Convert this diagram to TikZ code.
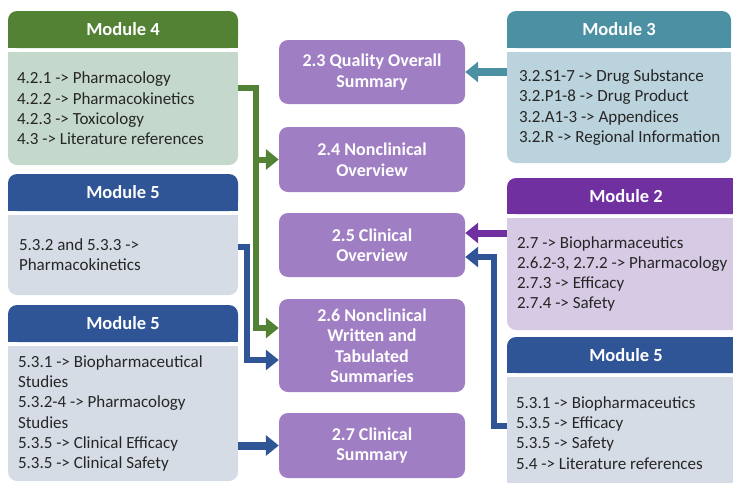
\documentclass[tikz,border=0pt]{standalone}
\usepackage{fontspec}
\setmainfont{Carlito}
\usepackage{tikz}
\usetikzlibrary{calc}
\usetikzlibrary{backgrounds}
\usetikzlibrary{arrows.meta}
\usetikzlibrary{positioning}

\definecolor{modgreen}{RGB}{84,130,53}
\definecolor{modgreenlt}{RGB}{197,216,204}
\definecolor{modblue}{RGB}{47,85,151}
\definecolor{modbluelt}{RGB}{214,220,229}
\definecolor{modteal}{RGB}{76,144,164}
\definecolor{modteallt}{RGB}{187,211,220}
\definecolor{modpurple}{RGB}{112,48,160}
\definecolor{modpurplelt}{RGB}{214,202,228}
\definecolor{summpurple}{RGB}{160,126,196}
\definecolor{bodytext}{RGB}{38,38,38}

\tikzset{modhead/.style={rectangle,rounded corners=9pt,inner sep=0pt,text=white,font=\fontsize{18.5}{20}\selectfont\bfseries}}
\tikzset{modbody/.style={rectangle,rounded corners=9pt,inner sep=0pt}}
\tikzset{modtext/.style={anchor=west,align=left,inner sep=0pt,text=bodytext,font=\fontsize{17}{20.3}\selectfont}}
\tikzset{summ/.style={rectangle,rounded corners=9pt,fill=summpurple,text=white,align=center,minimum width=186pt,font=\fontsize{18}{20.5}\selectfont\bfseries}}
\tikzset{link/.style={line width=6pt,-{Triangle[length=13pt,width=20pt]}}}

\begin{document}
\begin{tikzpicture}[x=1pt,y=-1pt]
\useasboundingbox (0,0) rectangle (733,482);

% left column
\node[modhead,fill=modgreen,minimum width=230pt,minimum height=37pt] (m4h) at (123,29.5) {Module 4};
\node[modbody,fill=modgreenlt,minimum width=230pt,minimum height=113pt] (m4b) at (123,108.5) {};
\node[modtext] (m4t) at ([xshift=9pt]m4b.west) {4.2.1 -> Pharmacology\\4.2.2 -> Pharmacokinetics\\4.2.3 -> Toxicology\\4.3 -> Literature references};

\node[modhead,fill=modblue,minimum width=230pt,minimum height=37pt] (m5ah) at (123,192.5) {Module 5};
\node[modbody,fill=modbluelt,minimum width=230pt,minimum height=80pt] (m5ab) at (123,255) {};
\node[modtext] (m5at) at ([xshift=11pt]m5ab.west) {5.3.2 and 5.3.3 ->\\Pharmacokinetics};

\node[modhead,fill=modblue,minimum width=230pt,minimum height=37pt] (m5bh) at (123,323.5) {Module 5};
\node[modbody,fill=modbluelt,minimum width=230pt,minimum height=135pt] (m5bb) at (123,413.5) {};
\node[modtext] (m5bt) at ([xshift=10pt]m5bb.west) {5.3.1 -> Biopharmaceutical\\Studies\\5.3.2-4 -> Pharmacology\\Studies\\5.3.5 -> Clinical Efficacy\\5.3.5 -> Clinical Safety};

% right column
\node[modhead,fill=modteal,minimum width=224pt,minimum height=37pt] (m3h) at (619,29.5) {Module 3};
\node[modbody,fill=modteallt,minimum width=224pt,minimum height=111pt] (m3b) at (619,107.5) {};
\node[modtext] (m3t) at ([xshift=12pt]m3b.west) {3.2.S1-7 -> Drug Substance\\3.2.P1-8 -> Drug Product\\3.2.A1-3 -> Appendices\\3.2.R -> Regional Information};

\node[modhead,fill=modpurple,minimum width=238pt,minimum height=36pt] (m2h) at (626,196) {Module 2};
\node[modbody,fill=modpurplelt,minimum width=238pt,minimum height=112pt] (m2b) at (626,274) {};
\node[modtext] (m2t) at ([xshift=10pt]m2b.west) {2.7 -> Biopharmaceutics\\2.6.2-3, 2.7.2 -> Pharmacology\\2.7.3 -> Efficacy\\2.7.4 -> Safety};

\node[modhead,fill=modblue,minimum width=238pt,minimum height=36pt] (m5ch) at (626,355) {Module 5};
\node[modbody,fill=modbluelt,minimum width=238pt,minimum height=118pt] (m5cb) at (626,436) {};
\node[modtext] (m5ct) at ([xshift=9pt,yshift=3pt]m5cb.west) {5.3.1 -> Biopharmaceutics\\5.3.5 -> Efficacy\\5.3.5 -> Safety\\5.4 -> Literature references};

% square off the corners where head and body meet
\begin{scope}[on background layer]
\foreach \m/\hc/\bc in {m4/modgreen/modgreenlt, m5a/modblue/modbluelt, m5b/modblue/modbluelt, m3/modteal/modteallt, m2/modpurple/modpurplelt, m5c/modblue/modbluelt}
  {
  \fill[\hc] (\m h.south west) rectangle ([yshift=10pt]\m h.south east);
  \fill[\bc] (\m b.north west) rectangle ([yshift=-10pt]\m b.north east);
  }
\end{scope}

% module 2 summaries
\foreach \id/\yc/\bh/\txt in {23/72/64/{2.3 Quality Overall\\Summary}, 24/159.5/65/{2.4 Nonclinical\\Overview}, 25/245/64/{2.5 Clinical\\Overview}, 26/345.5/93/{2.6 Nonclinical\\Written and\\Tabulated\\Summaries}, 27/445.5/65/{2.7 Clinical\\Summary}}
  \node[summ,minimum height=\bh pt] (s\id) at (372,\yc) {\txt};

\coordinate (s25hi) at ($(s25.east)+(0,-12)$);
\coordinate (s25lo) at ($(s25.east)+(0,12)$);
\coordinate (s26hi) at ($(s26.west)+(0,-17.5)$);
\coordinate (s26lo) at ($(s26.west)+(0,14.5)$);

\draw[link,modteal,line width=8pt] (m3b.west |- s23.east) -- (s23.east);
\draw[link,modpurple,line width=7pt] (m2b.west |- s25hi) -- (s25hi);
\draw[link,modblue] ([yshift=10pt]m5cb.west) -- ++(-13,0) |- (s25lo);

\draw[link,modgreen] ([yshift=20.5pt]m4b.east) -- ++(18,0) coordinate (gk) |- (s26hi);
\draw[link,modgreen] (gk |- s24.west) -- (s24.west);
\draw[link,modblue] ([yshift=8pt]m5ab.east) -- ++(9,0) |- (s26lo);
\draw[link,modblue,line width=8pt] (m5bb.east |- s27.west) -- (s27.west);

\end{tikzpicture}
\end{document}
